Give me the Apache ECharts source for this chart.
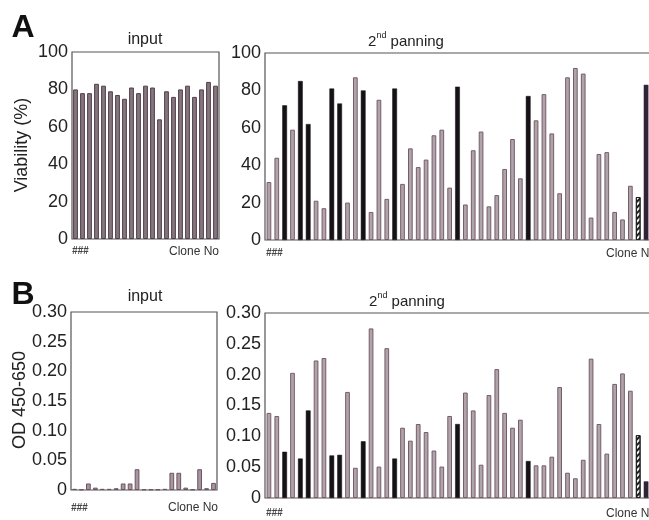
<!DOCTYPE html>
<html><head><meta charset="utf-8">
<script src="https://cdn.jsdelivr.net/npm/echarts@6/dist/echarts.min.js"></script>
<style>html,body{margin:0;padding:0;background:#fff}#c{width:649px;height:520px}</style>
</head><body><div id="c"></div>
<script>
// ---- data ----
const inputViability = [80,78,78,83,82,79,77,75,81,78,82,81,64,79,76,80,82,76,80,84,82];
const panViability = [31,44,72,59,85,62,21,17,81,73,20,87,80,15,75,22,81,30,49,39,43,56,59,28,82,19,48,58,18,24,38,54,33,77,64,78,57,25,87,92,89,12,46,47,15,11,29,23,83];
const inputOD = [0.002,0.001,0.011,0.004,0.002,0.002,0.003,0.011,0.011,0.035,0.001,0.001,0.001,0.002,0.029,0.029,0.004,0.001,0.035,0.003,0.012];
const panOD = [0.138,0.133,0.075,0.203,0.064,0.142,0.223,0.227,0.069,0.070,0.172,0.049,0.092,0.275,0.051,0.243,0.064,0.114,0.093,0.120,0.107,0.077,0.051,0.133,0.120,0.171,0.142,0.054,0.167,0.209,0.138,0.114,0.127,0.060,0.053,0.053,0.067,0.180,0.041,0.032,0.062,0.226,0.120,0.072,0.185,0.202,0.174,0.102,0.027];
// g = gray clone, b = black clone, h = hatched control, d = dark dotted control
const panTypes = ['g','g','b','g','b','b','g','g','b','b','g','g','b','g','g','g','b','g','g','g','g','g','g','g','b','g','g','g','g','g','g','g','g','b','g','g','g','g','g','g','g','g','g','g','g','g','g','h','d'];
const viabilityTicks = [0,20,40,60,80,100];
const odTicks = ['0','0.05','0.10','0.15','0.20','0.25','0.30'];
const titles = {input:'input', pan:'{n|2}{s|nd}{n| panning}'};
const xLeft = '###', xRight = 'Clone No';

// ---- chart ----
const FONT = 'Liberation Sans';
const cats = n => Array.from({length:n}, (_, i) => String(i + 1));
function styleFor(t){
  if (t === 'b') return {color:'#151116', borderColor:'#151116', borderWidth:0.5};
  if (t === 'h') return {color:'#f4f4f4', borderColor:'#222', borderWidth:1,
    decal:{symbol:'rect', color:'#1c1c1c', dashArrayX:[1,0], dashArrayY:[2,2], rotation:-Math.PI/4, symbolSize:1}};
  if (t === 'd') return {color:'#2e2436', borderColor:'#3c2f47', borderWidth:0.5};
  return {color:'#b0a3aa', borderColor:'#755d6a', borderWidth:1};
}
const inputStyle = {color:'#86767e', borderColor:'#4f3d48', borderWidth:1};
const gridBase = {show:true, borderColor:'#555', borderWidth:1.2, containLabel:false, outerBoundsMode:'none'};
const grids = [
  Object.assign({left:72, top:52, width:147, height:187}, gridBase),
  Object.assign({left:265, top:53, width:385, height:187}, gridBase),
  Object.assign({left:71, top:312, width:146, height:178}, gridBase),
  Object.assign({left:265, top:313, width:385, height:185}, gridBase)
];
const xAx = (gi, n) => ({type:'category', gridIndex:gi, data:cats(n), axisLine:{show:false}, axisTick:{show:false}, axisLabel:{show:false}});
const labelStyle = {fontSize:18, color:'#222', fontFamily:FONT, margin:4};
const yA = gi => ({type:'value', gridIndex:gi, min:viabilityTicks[0], max:viabilityTicks[viabilityTicks.length-1], interval:20,
  axisLine:{show:false}, axisTick:{show:false}, splitLine:{show:false}, axisLabel:labelStyle});
const yB = gi => ({type:'value', gridIndex:gi, min:0, max:0.3, interval:0.05,
  axisLine:{show:false}, axisTick:{show:false}, splitLine:{show:false},
  axisLabel:Object.assign({formatter: v => odTicks[Math.round(v / 0.05)]}, labelStyle)});

const txt = (x, y, text, extra, rot) => ({type:'text', x, y, rotation:rot || 0, silent:true,
  style:Object.assign({text, fontFamily:FONT, fill:'#222', align:'center', verticalAlign:'middle'}, extra || {})});
const rich = {n:{fontSize:15, fontFamily:FONT, color:'#222', lineHeight:18, verticalAlign:'bottom'}, s:{fontSize:9, fontFamily:FONT, color:'#222', verticalAlign:'top', lineHeight:18}};
const hashStyle = {fontSize:10, fontWeight:'bold', fontStyle:'italic', fill:'#444', align:'left'};
const cloneStyle = {fontSize:12, fill:'#333', align:'right'};

const option = {
  animation:false,
  backgroundColor:'#fff',
  grid:grids,
  xAxis:[xAx(0, inputViability.length), xAx(1, panViability.length), xAx(2, inputOD.length), xAx(3, panOD.length)],
  yAxis:[yA(0), yA(1), yB(2), yB(3)],
  series:[
    {type:'bar', xAxisIndex:0, yAxisIndex:0, barWidth:'68%', data:inputViability, itemStyle:inputStyle},
    {type:'bar', xAxisIndex:1, yAxisIndex:1, barWidth:'60%', data:panViability.map((v, i) => ({value:v, itemStyle:styleFor(panTypes[i])}))},
    {type:'bar', xAxisIndex:2, yAxisIndex:2, barWidth:'68%', data:inputOD, itemStyle:{color:'#a8959f', borderColor:'#6a5360', borderWidth:1}},
    {type:'bar', xAxisIndex:3, yAxisIndex:3, barWidth:'60%', data:panOD.map((v, i) => ({value:v, itemStyle:styleFor(panTypes[i])}))}
  ],
  graphic:[
    txt(23, 28, 'A', {fontSize:32, fontWeight:'bold', fill:'#111'}),
    txt(23, 295, 'B', {fontSize:32, fontWeight:'bold', fill:'#111'}),
    txt(145, 40, titles.input, {fontSize:16}),
    txt(406, 40, titles.pan, {rich}),
    txt(145, 297, titles.input, {fontSize:16}),
    txt(407, 300, titles.pan, {rich}),
    txt(22, 145, 'Viability (%)', {fontSize:18}, Math.PI / 2),
    txt(20, 400, 'OD 450-650', {fontSize:18}, Math.PI / 2),
    txt(72, 251, xLeft, hashStyle),
    txt(219, 252, xRight, cloneStyle),
    txt(266, 253, xLeft, hashStyle),
    txt(656, 254, xRight, cloneStyle),
    txt(71, 508, xLeft, hashStyle),
    txt(218, 508, xRight, cloneStyle),
    txt(266, 513, xLeft, hashStyle),
    txt(656, 514, xRight, cloneStyle)
  ]
};
echarts.init(document.getElementById('c')).setOption(option);
</script>
</body></html>
